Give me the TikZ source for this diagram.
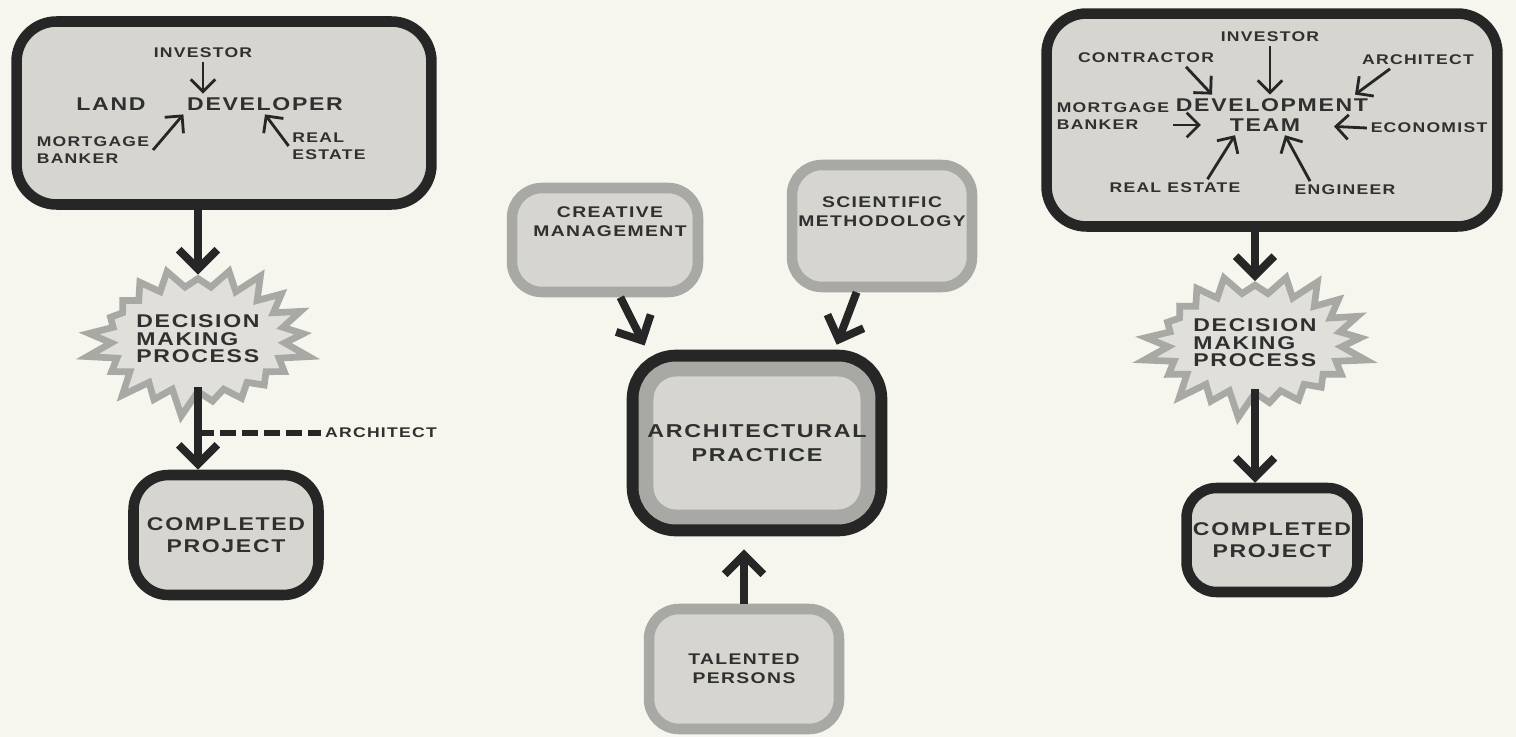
\documentclass[tikz,border=0pt]{standalone}
\usepackage{fontspec}
\setmainfont{Liberation Sans}[FakeStretch=1.25, LetterSpace=9]
\usetikzlibrary{arrows.meta, shapes.symbols}

\definecolor{paper}{RGB}{246,245,238}
\definecolor{ink}{RGB}{38,38,38}
\definecolor{boxgrey}{RGB}{214,213,208}
\definecolor{burstgrey}{RGB}{224,223,218}
\definecolor{rimgrey}{RGB}{168,168,164}
\definecolor{txt}{RGB}{48,48,48}

\newcommand\fsmall{\fontsize{8}{9.8}\selectfont\bfseries}
\newcommand\fmid{\fontsize{8.8}{10.8}\selectfont\bfseries}
\newcommand\fbig{\fontsize{10.5}{12.5}\selectfont\bfseries}

\begin{document}
\begin{tikzpicture}[x=0.02cm, y=-0.02cm,
	inkbox/.style={draw=ink, line width=6pt, fill=boxgrey, rounded corners=0.8cm, inner sep=0pt},
	rimbox/.style={draw=rimgrey, line width=6pt, fill=boxgrey, rounded corners=0.6cm, inner sep=0pt},
	tvbox/.style={draw=rimgrey, line width=8.5pt, fill=boxgrey, rounded corners=0.6cm, inner sep=0pt, preaction={draw=ink, line width=22pt}},
	burst/.style={starburst, draw=rimgrey, line width=3.8pt, fill=burstgrey, inner xsep=0pt, starburst points=21, starburst point height=0.55cm, random starburst=13, align=left, text=txt, font=\fontsize{10.5}{10}\selectfont\bfseries},
	word/.style={text=txt, font=\fsmall, inner sep=2pt, align=left},
	flow/.style={draw=ink, line width=4.5pt, -{Straight Barb[length=11pt, width=22pt]}},
	feed/.style={draw=ink, line width=1.6pt, -{Straight Barb[length=7pt, width=14pt]}},
	hint/.style={draw=ink, line width=3.2pt, dash pattern=on 9pt off 3.5pt}]
	\fill[paper] (0,0) rectangle (1516,737);
	\useasboundingbox (0,0) rectangle (1516,737);

	% land developer
	\node[inkbox, minimum width=8.3cm, minimum height=3.66cm] (landbox) at (224,113) {};
	\node[word] (inv) at (203,53) {INVESTOR};
	\node[word, font=\fbig] (land) at (111,104) {LAND};
	\node[word, font=\fbig] (dev) at (265,104) {DEVELOPER};
	\node[word] (mort) at (93,150) {MORTGAGE\\BANKER};
	\node[word] (real) at (329,146) {REAL\\ESTATE};
	\draw[feed] (inv.south) -- (inv.south |- dev.north);
	\draw[feed] (mort.east) -- (dev.south west);
	\draw[feed] (real.west) -- (dev.south);

	\node[burst, minimum width=3.7cm, minimum height=3.2cm] (burstL) at (198,339) {DECISION\\MAKING\\PROCESS};
	\node[inkbox, minimum width=3.7cm, minimum height=2.4cm, rounded corners=0.7cm, font=\fbig, text=txt, align=center] (doneL) at (226,535) {COMPLETED\\PROJECT};
	\draw[flow] (landbox.south -| burstL) -- (burstL.north);
	\draw[flow] ([yshift=0.2cm]burstL.south) -- (burstL.south |- doneL.north);
	\node[word] (archtag) at (381,433) {ARCHITECT};
	\draw[hint] (archtag.west -| burstL.south) -- (archtag.west);

	% architectural practice
	\node[rimbox, minimum width=3.72cm, minimum height=2.08cm] (creative) at (605,240) {};
	\node[word, font=\fmid, align=center] (creativetxt) at (610,222) {CREATIVE\\MANAGEMENT};
	\node[rimbox, minimum width=3.6cm, minimum height=2.44cm] (science) at (882,226) {};
	\node[word, font=\fmid, align=center] (sciencetxt) at (882,212) {SCIENTIFIC\\METHODOLOGY};
	\node[tvbox, minimum width=4.44cm, minimum height=2.96cm, font=\fontsize{10.6}{14}\selectfont\bfseries, text=txt, align=center] (practice) at (757,443) {ARCHITECTURAL\\PRACTICE};
	\node[rimbox, minimum width=3.8cm, minimum height=2.4cm, font=\fmid, text=txt, align=center] (talent) at (744,669) {TALENTED\\PERSONS};
	\draw[flow, shorten >=0.36cm] (creative.-75) -- (practice.142);
	\draw[flow, shorten >=0.36cm] (science.-111) -- (practice.48);
	\draw[flow, shorten >=0.5cm] (talent.north) -- (talent.north |- practice.south);

	% development team
	\node[inkbox, minimum width=9.02cm, minimum height=4.26cm] (teambox) at (1272,120) {};
	\node[word] (contr) at (1146,58) {CONTRACTOR};
	\node[word] (inv2) at (1270,37) {INVESTOR};
	\node[word] (arch2) at (1418,60) {ARCHITECT};
	\node[word] (mort2) at (1113,116) {MORTGAGE\\BANKER};
	\node[word, font=\fbig] (devt) at (1272,105) {DEVELOPMENT};
	\node[word, font=\fbig] (team) at (1265,125) {TEAM};
	\node[word] (econ) at (1429,128) {ECONOMIST};
	\node[word] (real2) at (1175,188) {REAL ESTATE};
	\node[word] (eng) at (1345,190) {ENGINEER};
	\draw[feed] ([xshift=0.8cm]contr.south) -- ([xshift=-1.2cm]devt.north);
	\draw[feed] (inv2.south) -- (inv2.south |- devt.north);
	\draw[feed] ([xshift=-0.56cm]arch2.south) -- ([xshift=1.66cm]devt.north);
	\draw[feed, shorten >=0.5cm] (mort2.east |- team) -- (team.west);
	\draw[feed, shorten >=0.6cm] (econ.west) -- (team.east);
	\draw[feed] ([xshift=0.65cm]real2.north) -- ([xshift=-0.6cm]team.south);
	\draw[feed] ([xshift=-0.7cm]eng.north) -- ([xshift=0.4cm]team.south);

	\node[burst, minimum width=3.4cm, minimum height=3.1cm] (burstR) at (1255,343) {DECISION\\MAKING\\PROCESS};
	\node[inkbox, minimum width=3.42cm, minimum height=2.08cm, rounded corners=0.6cm, font=\fbig, text=txt, align=center] (doneR) at (1272,540) {COMPLETED\\PROJECT};
	\draw[flow] (teambox.south -| burstR) -- (burstR.north);
	\draw[flow] ([yshift=0.2cm]burstR.south) -- (burstR.south |- doneR.north);
\end{tikzpicture}
\end{document}
